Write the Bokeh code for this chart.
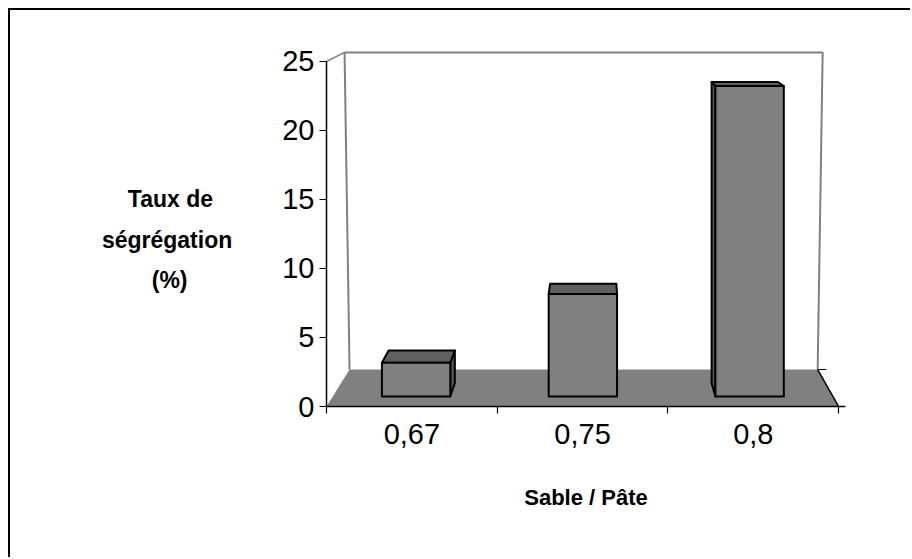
from bokeh.plotting import figure
from bokeh.models import FixedTicker, Range1d
from bokeh.embed import file_html
from bokeh.resources import INLINE

# ---- data ----
categories = ["0,67", "0,75", "0,8"]
values = [2.5, 7.6, 23.0]
y_ticks = [0, 5, 10, 15, 20, 25]
y_max = 25
NB = "\u00a0"
y_title_lines = ["Taux de", "ségrégation", "(%)"]
x_title = "Sable / Pâte"

# ---- 3D projection (front plane = data units, back plane scaled/offset) ----
BACK_DX, BACK_SX, BACK_DY, BACK_SY = 0.135, 0.914, 2.68, 0.919
BACK_SLANT = 0.00078
N = len(categories)


def proj(x, v, d, slant=0.0):
    X = x + d * (BACK_DX + (BACK_SX - 1) * x) + slant * (x - N / 2) * v
    Y = v + d * (BACK_DY + (BACK_SY - 1) * v)
    return X, Y


FONT = "Liberation Sans"

p = figure(width=902, height=549, x_range=Range1d(0, 3.04), y_range=Range1d(0, 27.1),
           output_backend="svg", toolbar_location=None,
           min_border_left=316, min_border_right=67, min_border_top=22, min_border_bottom=153)
p.margin = (8, 0, 0, 8)
p.styles = {"border-top": "2px solid black", "border-left": "2px solid black"}
p.outline_line_color = None
p.grid.visible = False
p.background_fill_color = "white"
p.border_fill_color = "white"

# floor
fl = [proj(0, 0, 0), proj(N, 0, 0), proj(N, 0, 1), proj(0, 0, 1)]
p.patch([a for a, b in fl], [b for a, b in fl], fill_color="#808080", line_color=None)
# right floor edge
p.line([fl[1][0], fl[2][0]], [fl[1][1], fl[2][1]], line_color="black", line_width=1.5)
p.line([fl[2][0], fl[2][0] + 0.05], [fl[2][1], fl[2][1]], line_color="black", line_width=1.2)

# back wall and left wall top edge
bw = [proj(0, 0, 1, BACK_SLANT), proj(0, y_max, 1, BACK_SLANT),
      proj(N, y_max, 1, BACK_SLANT), proj(N, 0, 1, BACK_SLANT)]
p.line([a for a, b in bw], [b for a, b in bw], line_color="#808080", line_width=2)
lt = [proj(0, y_max, 0), proj(0, y_max, 1, BACK_SLANT)]
p.line([a for a, b in lt], [b for a, b in lt], line_color="#808080", line_width=1.5)

# bars
D0, D1 = 0.27, 0.63
W0, W1 = 0.295, 0.705
side_xs, side_ys, top_xs, top_ys, front_xs, front_ys = [], [], [], [], [], []
for i, v in enumerate(values):
    x0, x1 = i + W0, i + W1
    fr = [proj(x0, 0, D0), proj(x1, 0, D0), proj(x1, v, D0), proj(x0, v, D0)]
    tp = [proj(x0, v, D0), proj(x1, v, D0), proj(x1, v, D1), proj(x0, v, D1)]
    front_xs.append([a for a, b in fr]); front_ys.append([b for a, b in fr])
    top_xs.append([a for a, b in tp]); top_ys.append([b for a, b in tp])
    if proj(x1, 0, D1)[0] > proj(x1, 0, D0)[0] + 0.01:
        sd = [proj(x1, 0, D0), proj(x1, 0, D1), proj(x1, v, D1), proj(x1, v, D0)]
        side_xs.append([a for a, b in sd]); side_ys.append([b for a, b in sd])
    if proj(x0, 0, D1)[0] < proj(x0, 0, D0)[0] - 0.01:
        sd = [proj(x0, 0, D0), proj(x0, 0, D1), proj(x0, v, D1), proj(x0, v, D0)]
        side_xs.append([a for a, b in sd]); side_ys.append([b for a, b in sd])

p.patches(side_xs, side_ys, fill_color="#555555", line_color="black", line_width=2, line_join="round")
p.patches(top_xs, top_ys, fill_color="#606060", line_color="black", line_width=2, line_join="round")
p.patches(front_xs, front_ys, fill_color="#808080", line_color="black", line_width=2, line_join="round")

# axes
ya = p.yaxis[0]
ya.ticker = FixedTicker(ticks=y_ticks)
ya.bounds = (0, y_max)
ya.major_tick_out = 7
ya.major_tick_in = 0
ya.minor_tick_out = 0
ya.minor_tick_in = 0
ya.axis_line_color = "black"
ya.axis_line_width = 1.5
ya.major_tick_line_width = 1.2
ya.major_label_text_font = FONT
ya.major_label_text_font_size = "29px"
ya.major_label_text_color = "black"
ya.major_label_standoff = 5
# multi-line title; lines padded so they look centred under right alignment
ya.axis_label = "\n".join([NB,
                           y_title_lines[0] + NB * 3,
                           y_title_lines[1],
                           y_title_lines[2] + NB * 7])
ya.axis_label_orientation = "horizontal"
ya.axis_label_text_align = "center"
ya.axis_label_text_font = FONT
ya.axis_label_text_font_style = "bold"
ya.axis_label_text_font_size = "23px"
ya.axis_label_text_color = "black"
ya.axis_label_text_line_height = 1.54
ya.axis_label_standoff = 47

xa = p.xaxis[0]
xa.ticker = FixedTicker(ticks=[i + 0.5 for i in range(N)], minor_ticks=list(range(N + 1)))
xa.major_label_overrides = {i + 0.5: c for i, c in enumerate(categories)}
xa.bounds = (0, 3.04)
xa.major_tick_out = 0
xa.major_tick_in = 0
xa.minor_tick_out = 7
xa.minor_tick_in = 0
xa.minor_tick_line_color = "black"
xa.minor_tick_line_width = 1.2
xa.axis_line_color = "black"
xa.axis_line_width = 1.5
xa.major_label_text_font = FONT
xa.major_label_text_font_size = "29px"
xa.major_label_text_color = "black"
xa.major_label_standoff = 10
xa.axis_label = x_title
xa.axis_label_text_font = FONT
xa.axis_label_text_font_style = "bold"
xa.axis_label_text_font_size = "22px"
xa.axis_label_text_color = "black"
xa.axis_label_standoff = 38

open("out.html", "w").write(file_html(p, INLINE))
